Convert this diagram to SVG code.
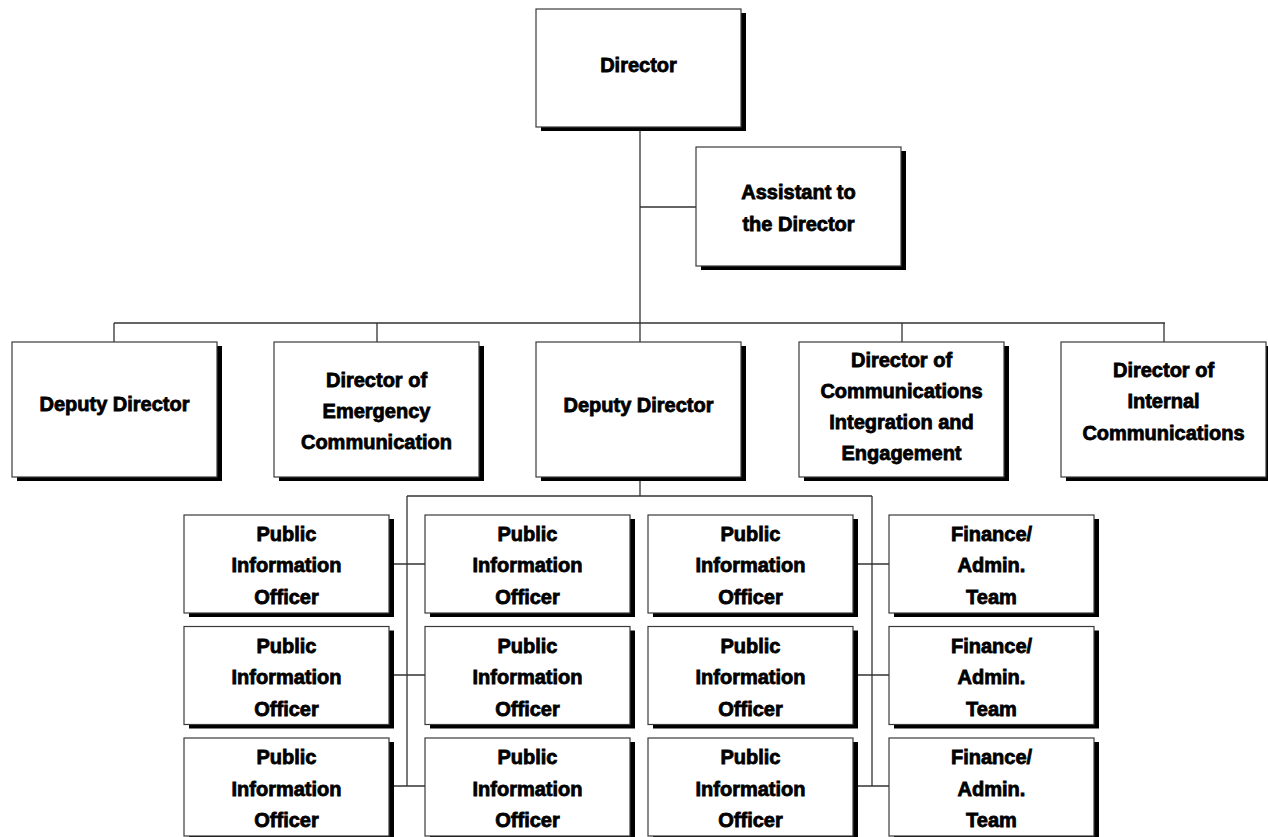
<svg xmlns="http://www.w3.org/2000/svg" width="1268" height="837" viewBox="0 0 1268 837">
<defs>
<style>
.sh{fill:#000}
.bx{fill:#fff;stroke:#3a3a3a;stroke-width:1.2}
.t{font-family:"Liberation Sans",Arial,sans-serif;font-weight:bold;font-size:20px;fill:#000;stroke:#000;stroke-width:0.8;text-anchor:middle}
.ln{stroke:#333;stroke-width:1.3;fill:none}
</style>
</defs>
<rect width="1268" height="837" fill="#fff"/>
<g id="connectors" class="ln">
<path d="M640,127V323M640,207H696"/>
<path d="M114,323H1165M114,323V342M377,323V342M640,323V342M902,323V342M1164,323V342"/>
<path d="M640,477V496M407,496H872M407,496V786M872,496V786"/>
<path d="M389,564H425M853,564H889M389,675H425M853,675H889M389,786H425M853,786H889"/>
</g>
<g id="director"><rect class="sh" x="541" y="13" width="205" height="118"/><rect class="bx" x="536" y="9" width="205" height="118"/><text class="t" x="638.5" y="72">Director</text></g>
<g id="assistant"><rect class="sh" x="701" y="151" width="205" height="119"/><rect class="bx" x="696" y="147" width="205" height="119"/><text class="t" x="798.5" y="199">Assistant to</text><text class="t" x="798.5" y="231">the Director</text></g>
<g id="deputy1"><rect class="sh" x="17" y="346" width="205" height="135"/><rect class="bx" x="12" y="342" width="205" height="135"/><text class="t" x="114.5" y="411">Deputy Director</text></g>
<g id="emergency"><rect class="sh" x="279" y="346" width="205" height="135"/><rect class="bx" x="274" y="342" width="205" height="135"/><text class="t" x="376.5" y="387">Director of</text><text class="t" x="376.5" y="418">Emergency</text><text class="t" x="376.5" y="449">Communication</text></g>
<g id="deputy2"><rect class="sh" x="541" y="346" width="205" height="135"/><rect class="bx" x="536" y="342" width="205" height="135"/><text class="t" x="638.5" y="412">Deputy Director</text></g>
<g id="integration"><rect class="sh" x="804" y="346" width="205" height="135"/><rect class="bx" x="799" y="342" width="205" height="135"/><text class="t" x="901.5" y="367">Director of</text><text class="t" x="901.5" y="398">Communications</text><text class="t" x="901.5" y="429">Integration and</text><text class="t" x="901.5" y="460">Engagement</text></g>
<g id="internal"><rect class="sh" x="1066" y="346" width="205" height="135"/><rect class="bx" x="1061" y="342" width="205" height="135"/><text class="t" x="1163.5" y="377">Director of</text><text class="t" x="1163.5" y="408">Internal</text><text class="t" x="1163.5" y="440">Communications</text></g>
<g id="pio-a1"><rect class="sh" x="189" y="519" width="205" height="98"/><rect class="bx" x="184" y="515" width="205" height="98"/><text class="t" x="286.5" y="541">Public</text><text class="t" x="286.5" y="572">Information</text><text class="t" x="286.5" y="604">Officer</text></g>
<g id="pio-b1"><rect class="sh" x="430" y="519" width="205" height="98"/><rect class="bx" x="425" y="515" width="205" height="98"/><text class="t" x="527.5" y="541">Public</text><text class="t" x="527.5" y="572">Information</text><text class="t" x="527.5" y="604">Officer</text></g>
<g id="pio-c1"><rect class="sh" x="653" y="519" width="205" height="98"/><rect class="bx" x="648" y="515" width="205" height="98"/><text class="t" x="750.5" y="541">Public</text><text class="t" x="750.5" y="572">Information</text><text class="t" x="750.5" y="604">Officer</text></g>
<g id="fin-1"><rect class="sh" x="894" y="519" width="205" height="98"/><rect class="bx" x="889" y="515" width="205" height="98"/><text class="t" x="991.5" y="541">Finance/</text><text class="t" x="991.5" y="572">Admin.</text><text class="t" x="991.5" y="604">Team</text></g>
<g id="pio-a2"><rect class="sh" x="189" y="630.5" width="205" height="98"/><rect class="bx" x="184" y="626.5" width="205" height="98"/><text class="t" x="286.5" y="652.5">Public</text><text class="t" x="286.5" y="684">Information</text><text class="t" x="286.5" y="715.5">Officer</text></g>
<g id="pio-b2"><rect class="sh" x="430" y="630.5" width="205" height="98"/><rect class="bx" x="425" y="626.5" width="205" height="98"/><text class="t" x="527.5" y="652.5">Public</text><text class="t" x="527.5" y="684">Information</text><text class="t" x="527.5" y="715.5">Officer</text></g>
<g id="pio-c2"><rect class="sh" x="653" y="630.5" width="205" height="98"/><rect class="bx" x="648" y="626.5" width="205" height="98"/><text class="t" x="750.5" y="652.5">Public</text><text class="t" x="750.5" y="684">Information</text><text class="t" x="750.5" y="715.5">Officer</text></g>
<g id="fin-2"><rect class="sh" x="894" y="630.5" width="205" height="98"/><rect class="bx" x="889" y="626.5" width="205" height="98"/><text class="t" x="991.5" y="652.5">Finance/</text><text class="t" x="991.5" y="684">Admin.</text><text class="t" x="991.5" y="715.5">Team</text></g>
<g id="pio-a3"><rect class="sh" x="189" y="742" width="205" height="98"/><rect class="bx" x="184" y="738" width="205" height="98"/><text class="t" x="286.5" y="764">Public</text><text class="t" x="286.5" y="796">Information</text><text class="t" x="286.5" y="827">Officer</text></g>
<g id="pio-b3"><rect class="sh" x="430" y="742" width="205" height="98"/><rect class="bx" x="425" y="738" width="205" height="98"/><text class="t" x="527.5" y="764">Public</text><text class="t" x="527.5" y="796">Information</text><text class="t" x="527.5" y="827">Officer</text></g>
<g id="pio-c3"><rect class="sh" x="653" y="742" width="205" height="98"/><rect class="bx" x="648" y="738" width="205" height="98"/><text class="t" x="750.5" y="764">Public</text><text class="t" x="750.5" y="796">Information</text><text class="t" x="750.5" y="827">Officer</text></g>
<g id="fin-3"><rect class="sh" x="894" y="742" width="205" height="98"/><rect class="bx" x="889" y="738" width="205" height="98"/><text class="t" x="991.5" y="764">Finance/</text><text class="t" x="991.5" y="796">Admin.</text><text class="t" x="991.5" y="827">Team</text></g>
</svg>
